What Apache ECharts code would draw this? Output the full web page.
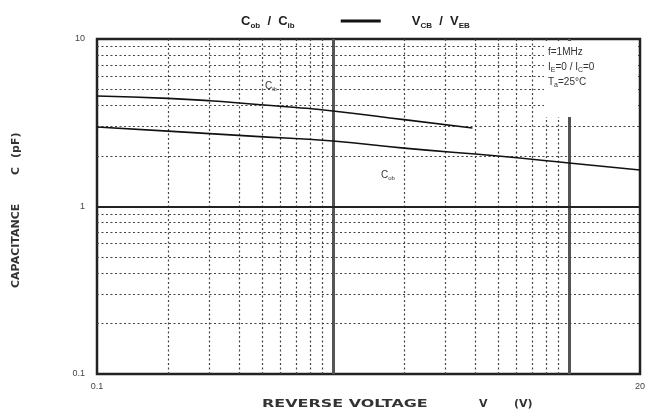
<!DOCTYPE html>
<html>
<head>
<meta charset="utf-8">
<script src="https://cdn.jsdelivr.net/npm/echarts@6/dist/echarts.min.js"></script>
<style>html,body{margin:0;padding:0;background:#fff}#c{width:662px;height:417px}</style>
</head>
<body>
<div id="c"></div>
<script>
// Data (log-log plot)
var cibVoltage = [0.1, 0.2, 0.3, 0.45, 0.7, 1, 2, 3.9];
var cibCap     = [4.57, 4.42, 4.28, 4.09, 3.9, 3.72, 3.3, 2.94];
var cobVoltage = [0.1, 0.2, 0.45, 1, 2, 5, 10, 20];
var cobCap     = [2.98, 2.82, 2.63, 2.46, 2.23, 2.0, 1.82, 1.65];
var xTickLabels = [0.1, 20];
var xMinorGrid = [0.2,0.3,0.4,0.5,0.6,0.7,0.8,0.9,2,3,4,5,6,7,8,9];
var xMajorGrid = [1, 10];
var yMinorGrid = [0.2,0.3,0.4,0.5,0.6,0.7,0.8,0.9,2,3,4,5,6,7,8,9];
var yMajorGrid = [1];

function pairs(xs, ys){ return xs.map(function(x,i){ return [x, ys[i]]; }); }

var dotted = {type:[2,2.5], color:'#444', width:1.2};
var gridLines = [];
xMinorGrid.forEach(function(v){ gridLines.push({xAxis:v, lineStyle:dotted}); });
xMajorGrid.forEach(function(v){ gridLines.push({xAxis:v, lineStyle:{type:'solid', color:'#555', width:3}}); });
yMinorGrid.forEach(function(v){ gridLines.push({yAxis:v, lineStyle:dotted}); });
yMajorGrid.forEach(function(v){ gridLines.push({yAxis:v, lineStyle:{type:'solid', color:'#222', width:2}}); });

var FF = 'Liberation Sans, Arial, sans-serif';
var chart = echarts.init(document.getElementById('c'), null, {renderer:'canvas'});
var lab = {fontFamily:FF, color:'#444', fontSize:9};
var subRich = function(size, sub, pad){
  return {n:{fontFamily:FF, fontSize:size, fill:'#333', color:'#333'}, s:{fontFamily:FF, fontSize:sub, fill:'#333', color:'#333', padding:[pad,0,0,0]}};
};
chart.setOption({
  backgroundColor:'#fff',
  animation:false,
  title:{
    left:236, top:7,
    text:'{b|C}{s|ob}{b|  /  C}{s|ib}{g|}{ln|}{g2|}{b|V}{s|CB}{b|  /  V}{s|EB}',
    textStyle:{
      rich:{
        b:{fontFamily:FF, fontWeight:'bold', fontSize:13, color:'#222'},
        s:{fontFamily:FF, fontWeight:'bold', fontSize:8, color:'#222', padding:[9,0,0,0]},
        g:{width:46},
        g2:{width:31},
        ln:{width:40, height:3, backgroundColor:'#111'}
      }
    }
  },
  grid:{left:97, right:22, top:39, bottom:43, show:true, borderColor:'#222', borderWidth:2.5},
  xAxis:{
    type:'log', logBase:10, min:0.1, max:20,
    axisLine:{show:false}, axisTick:{show:false}, splitLine:{show:false},
    axisLabel:Object.assign({margin:8, customValues:xTickLabels}, lab)
  },
  yAxis:{
    type:'log', logBase:10, min:0.1, max:10,
    axisLine:{show:false}, axisTick:{show:false}, splitLine:{show:false},
    axisLabel:Object.assign({margin:12}, lab)
  },
  series:[
    {
      name:'Cib', type:'line', data:pairs(cibVoltage, cibCap), symbol:'none', smooth:true,
      lineStyle:{color:'#111', width:1.6}, z:5,
      markLine:{silent:true, symbol:'none', label:{show:false}, data:gridLines, z:1, animation:false}
    },
    {
      name:'Cob', type:'line', data:pairs(cobVoltage, cobCap), symbol:'none', smooth:true,
      lineStyle:{color:'#111', width:1.6}, z:5
    }
  ],
  graphic:[
    {type:'rect', z:50, shape:{x:544, y:41, width:94, height:76}, style:{fill:'#fff'}},
    {type:'text', z:51, left:548, top:47, style:{text:'f=1MHz', font:'10px Liberation Sans, Arial, sans-serif', fill:'#333'}},
    {type:'text', z:51, left:548, top:62, style:{text:'{n|I}{s|E}{n|=0 / I}{s|C}{n|=0}', rich:subRich(10,7,6)}},
    {type:'text', z:51, left:548, top:77, style:{text:'{n|T}{s|a}{n|=25°C}', rich:subRich(10,7,6)}},
    {type:'text', z:51, left:265, top:81, style:{text:'{n|C}{s|ib}', rich:subRich(10,6,6)}},
    {type:'text', z:51, left:381, top:170, style:{text:'{n|C}{s|ob}', rich:subRich(10,6,6)}},
    {type:'text', z:51, x:262, y:399, scaleX:1.45, style:{text:'REVERSE VOLTAGE', font:'bold 11px DejaVu Sans, sans-serif', fill:'#333'}},
    {type:'text', z:51, x:479, y:399, style:{text:'V', font:'bold 11px DejaVu Sans, sans-serif', fill:'#333'}},
    {type:'text', z:51, x:514, y:399, style:{text:'(V)', font:'bold 11px DejaVu Sans, sans-serif', fill:'#333'}},
    {type:'text', z:51, x:16, y:288, rotation:Math.PI/2, style:{text:'CAPACITANCE', font:'bold 11px DejaVu Sans, sans-serif', fill:'#333', align:'left', verticalAlign:'middle'}},
    {type:'text', z:51, x:16, y:175, rotation:Math.PI/2, style:{text:'C', font:'bold 11px DejaVu Sans, sans-serif', fill:'#333', align:'left', verticalAlign:'middle'}},
    {type:'text', z:51, x:16, y:158, rotation:Math.PI/2, style:{text:'(pF)', font:'bold 11px DejaVu Sans, sans-serif', fill:'#333', align:'left', verticalAlign:'middle'}}
  ]
});
</script>
</body>
</html>
